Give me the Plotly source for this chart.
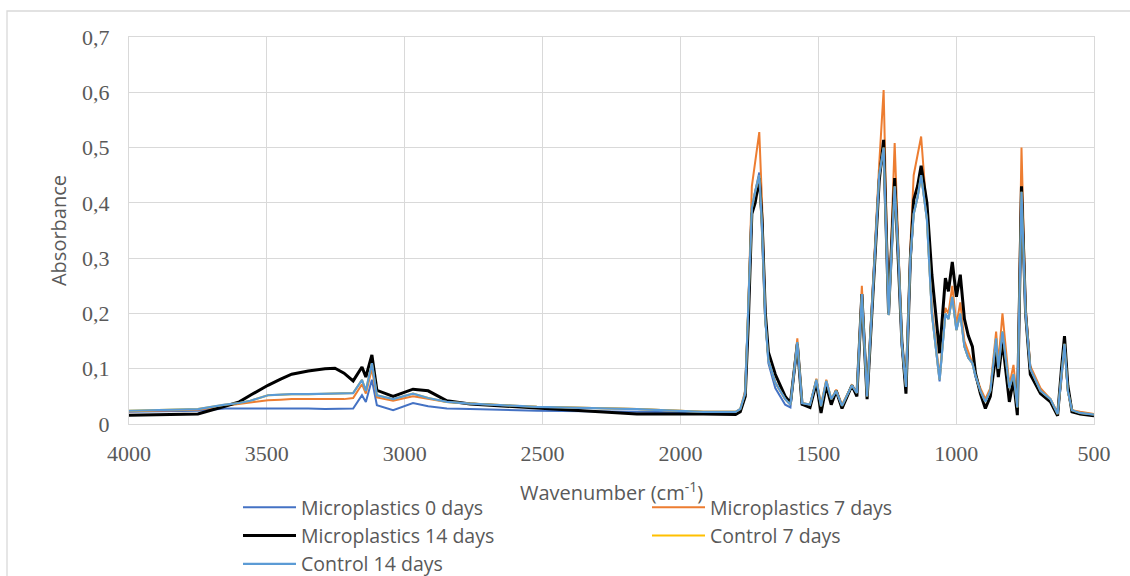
import plotly.graph_objects as go

# Wavenumber grid (cm-1), descending
wavenumber = [4000, 3750, 3652, 3600, 3560, 3496, 3450, 3410, 3350, 3289, 3253, 3220, 3187,
              3155, 3141, 3119, 3101, 3042,
              2970, 2915, 2847, 2763, 2521, 2158, 1917, 1800, 1783, 1765, 1754, 1741, 1729, 1714,
              1704, 1692, 1681, 1656, 1620, 1601, 1576, 1559, 1530, 1507, 1490, 1471, 1453, 1435,
              1414, 1378, 1360, 1342, 1323, 1311, 1293, 1279, 1263, 1245, 1223, 1209, 1197, 1182,
              1166, 1154, 1140, 1127, 1106, 1088, 1060, 1039, 1028, 1014, 999, 985, 970, 956, 941,
              930, 912, 894, 876, 855, 847, 832, 807, 792, 778, 763, 748, 731, 694, 658, 632, 618,
              607, 595, 580, 550, 500]

mp_0_days = [0.022, 0.024, 0.028, 0.028, 0.028, 0.029, 0.029, 0.029, 0.028, 0.027, 0.027, 0.027, 0.028,
             0.052, 0.040, 0.080, 0.034, 0.025,
             0.038, 0.032, 0.028, 0.027, 0.024, 0.022, 0.020, 0.020, 0.025, 0.050, 0.190, 0.390, 0.420, 0.455,
             0.360, 0.190, 0.110, 0.065, 0.035, 0.030, 0.145, 0.035, 0.033, 0.080, 0.030, 0.077, 0.040, 0.058,
             0.032, 0.068, 0.055, 0.235, 0.048, 0.160, 0.310, 0.450, 0.505, 0.197, 0.430, 0.300, 0.140, 0.065,
             0.290, 0.380, 0.410, 0.450, 0.370, 0.200, 0.077, 0.200, 0.190, 0.230, 0.170, 0.200, 0.140, 0.120, 0.110,
             0.085, 0.060, 0.042, 0.060, 0.155, 0.100, 0.167, 0.065, 0.090, 0.030, 0.420, 0.200, 0.100, 0.060, 0.045, 0.018, 0.080,
             0.145, 0.060, 0.025, 0.020, 0.016]

mp_7_days = [0.023, 0.026, 0.033, 0.036, 0.038, 0.043, 0.044, 0.045, 0.045, 0.045, 0.045, 0.045, 0.047,
             0.072, 0.055, 0.100, 0.048, 0.042,
             0.050, 0.045, 0.040, 0.037, 0.031, 0.027, 0.022, 0.022, 0.027, 0.060, 0.210, 0.430, 0.470, 0.528,
             0.400, 0.200, 0.120, 0.075, 0.045, 0.035, 0.155, 0.038, 0.035, 0.082, 0.035, 0.080, 0.045, 0.062,
             0.035, 0.070, 0.058, 0.250, 0.052, 0.170, 0.330, 0.470, 0.604, 0.200, 0.508, 0.320, 0.150, 0.070,
             0.320, 0.450, 0.483, 0.520, 0.380, 0.210, 0.085, 0.210, 0.200, 0.250, 0.180, 0.220, 0.150, 0.130, 0.110,
             0.090, 0.065, 0.045, 0.065, 0.167, 0.110, 0.200, 0.070, 0.107, 0.035, 0.500, 0.210, 0.105, 0.065, 0.045, 0.020, 0.085,
             0.148, 0.060, 0.025, 0.022, 0.018]

mp_14_days = [0.016, 0.018, 0.032, 0.040, 0.052, 0.070, 0.081, 0.090, 0.096, 0.100, 0.101, 0.092, 0.078,
              0.103, 0.085, 0.125, 0.061, 0.050,
              0.063, 0.060, 0.042, 0.036, 0.029, 0.018, 0.018, 0.017, 0.022, 0.050, 0.180, 0.380, 0.400, 0.445,
              0.370, 0.200, 0.130, 0.090, 0.050, 0.038, 0.145, 0.036, 0.030, 0.075, 0.020, 0.070, 0.035, 0.060,
              0.028, 0.070, 0.050, 0.235, 0.045, 0.150, 0.310, 0.440, 0.514, 0.200, 0.445, 0.300, 0.150, 0.055,
              0.300, 0.405, 0.430, 0.467, 0.400, 0.270, 0.128, 0.264, 0.240, 0.293, 0.230, 0.270, 0.190, 0.160, 0.140,
              0.092, 0.055, 0.028, 0.050, 0.130, 0.085, 0.150, 0.040, 0.080, 0.016, 0.430, 0.200, 0.090, 0.055, 0.040, 0.015, 0.100,
              0.159, 0.070, 0.022, 0.018, 0.015]

control_7_days = [0.024, 0.027, 0.035, 0.038, 0.042, 0.052, 0.053, 0.054, 0.054, 0.055, 0.055, 0.055, 0.056,
                  0.080, 0.060, 0.110, 0.052, 0.045,
                  0.055, 0.047, 0.040, 0.037, 0.031, 0.027, 0.022, 0.022, 0.027, 0.056, 0.200, 0.390, 0.420, 0.450,
                  0.357, 0.188, 0.116, 0.075, 0.045, 0.035, 0.148, 0.038, 0.035, 0.080, 0.032, 0.078, 0.045, 0.060,
                  0.033, 0.070, 0.056, 0.235, 0.050, 0.165, 0.320, 0.450, 0.500, 0.197, 0.430, 0.300, 0.146, 0.067,
                  0.300, 0.380, 0.410, 0.450, 0.370, 0.200, 0.080, 0.200, 0.190, 0.230, 0.170, 0.200, 0.140, 0.120, 0.110,
                  0.088, 0.060, 0.040, 0.060, 0.155, 0.100, 0.167, 0.065, 0.090, 0.030, 0.420, 0.200, 0.100, 0.060, 0.045, 0.018, 0.085,
                  0.145, 0.060, 0.025, 0.020, 0.017]

control_14_days = [0.024, 0.027, 0.035, 0.038, 0.042, 0.052, 0.053, 0.054, 0.054, 0.055, 0.055, 0.055, 0.056,
                   0.080, 0.060, 0.110, 0.052, 0.045,
                   0.055, 0.047, 0.040, 0.037, 0.031, 0.027, 0.022, 0.022, 0.027, 0.056, 0.200, 0.390, 0.420, 0.450,
                   0.357, 0.188, 0.116, 0.075, 0.045, 0.035, 0.148, 0.038, 0.035, 0.080, 0.032, 0.078, 0.045, 0.060,
                   0.033, 0.070, 0.056, 0.235, 0.050, 0.165, 0.320, 0.450, 0.500, 0.197, 0.430, 0.300, 0.146, 0.067,
                   0.300, 0.380, 0.410, 0.450, 0.370, 0.200, 0.080, 0.200, 0.190, 0.230, 0.170, 0.200, 0.140, 0.120, 0.110,
                   0.088, 0.060, 0.040, 0.060, 0.155, 0.100, 0.167, 0.065, 0.090, 0.030, 0.420, 0.200, 0.100, 0.060, 0.045, 0.018, 0.085,
                   0.145, 0.060, 0.025, 0.020, 0.017]

series_names = ["Microplastics 0 days", "Microplastics 7 days", "Microplastics 14 days",
                "Control 7 days", "Control 14 days"]
series_values = [mp_0_days, mp_7_days, mp_14_days, control_7_days, control_14_days]
series_colors = ["#4472C4", "#ED7D31", "#000000", "#FFC000", "#5B9BD5"]
series_widths = [2, 2, 3, 2, 2.2]

x_ticks = [4000, 3500, 3000, 2500, 2000, 1500, 1000, 500]
y_ticks = [0, 0.1, 0.2, 0.3, 0.4, 0.5, 0.6, 0.7]
y_tick_labels = ["0", "0,1", "0,2", "0,3", "0,4", "0,5", "0,6", "0,7"]
x_title = "Wavenumber (cm<sup>-1</sup>)"
y_title = "Absorbance"

fig = go.Figure()
for name, vals, col, w in zip(series_names, series_values, series_colors, series_widths):
    fig.add_trace(go.Scatter(x=wavenumber, y=vals, mode="lines", name=name,
                             line=dict(color=col, width=w)))

grid = "#d9d9d9"
tick_font = dict(family="Liberation Serif", size=22, color="#595959")
title_font = dict(family="Open Sans", size=20, color="#595959")

fig.update_layout(
    width=1130, height=576,
    margin=dict(l=129, r=36, t=37, b=152, autoexpand=False),
    paper_bgcolor="white", plot_bgcolor="white",
    showlegend=True,
    legend=dict(orientation="h", x=(238 - 129) / 965, xanchor="left",
                yref="container", y=(576 - 488) / 576, yanchor="top",
                entrywidth=341, entrywidthmode="pixels", itemwidth=53,
                font=dict(family="Open Sans", size=19.5, color="#595959"),
                tracegroupgap=0, traceorder="normal", bgcolor="rgba(0,0,0,0)"),
    xaxis=dict(range=[4000, 500], tickvals=x_ticks, ticktext=[str(v) for v in x_ticks],
               showgrid=True, gridcolor=grid, gridwidth=1.3, zeroline=False,
               showline=True, linecolor=grid, linewidth=1.3, mirror=True,
               tickfont=tick_font, ticklabelstandoff=9),
    yaxis=dict(range=[0, 0.7], tickvals=y_ticks, ticktext=y_tick_labels,
               showgrid=True, gridcolor=grid, gridwidth=1.3, zeroline=False,
               showline=True, linecolor=grid, linewidth=1.3, mirror=True,
               tickfont=tick_font, ticklabelstandoff=14,
               title=dict(text=y_title, font=title_font, standoff=9)),
    annotations=[dict(text=x_title, xref="paper", yref="paper", x=0.5, y=(424 - 491) / 387,
                      xanchor="center", yanchor="middle", showarrow=False, font=title_font)],
    shapes=[dict(type="rect", xref="paper", yref="paper",
                 x0=(7 - 129) / 965, x1=(1140 - 129) / 965,
                 y0=(424 - 600) / 387, y1=(424 - 11) / 387,
                 line=dict(color=grid, width=1.3), fillcolor="rgba(0,0,0,0)", layer="below")],
)

fig.write_html("out.html")
